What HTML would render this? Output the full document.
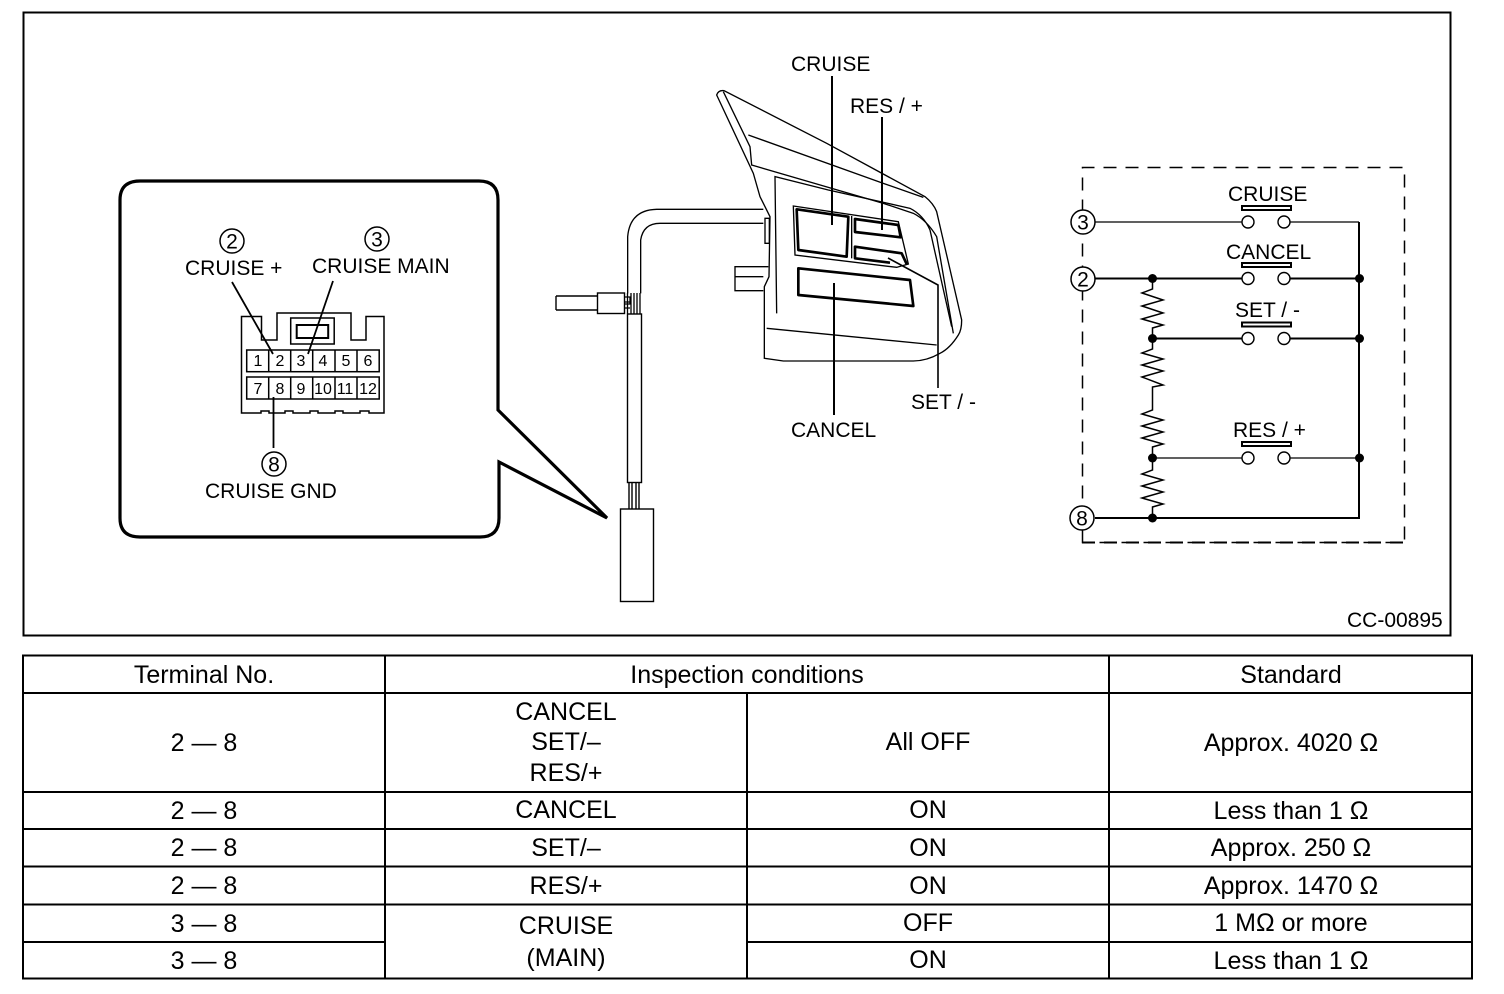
<!DOCTYPE html>
<html><head><meta charset="utf-8"><style>
html,body{margin:0;padding:0;background:#fff}
svg{display:block}
text{font-family:"Liberation Sans",sans-serif;fill:#000;stroke:none}
.d{font-size:21px}
.n{font-size:16px;text-anchor:middle}
.c{font-size:21px;text-anchor:middle}
.t{font-size:25px;text-anchor:middle}
</style></head><body>
<svg width="1504" height="994" viewBox="0 0 1504 994" xmlns="http://www.w3.org/2000/svg" fill="none" stroke="#000">
<rect x="0" y="0" width="1504" height="994" fill="#fff" stroke="none"/>
<rect x="23.5" y="12.5" width="1427" height="623" stroke-width="2"/>

<!-- callout -->
<path d="M140 181H479Q498 181 498 200V410L607 518L499 462V518Q499 537 480 537H140Q120 537 120 518V200Q120 181 140 181Z" stroke-width="3.2" stroke-linejoin="miter"/>

<!-- connector -->
<g stroke-width="1.5">
<path d="M241.500 316.500V413H261V411H269V413H285V411H293V413H310V411H318V413H335V411H343V413H360V411H369V413H384V316.500H366V340H351V313H277V340H261.500V316.500Z"/>
<rect x="290.700" y="318" width="43.500" height="26"/>
<rect x="296.700" y="325" width="31.500" height="13" stroke-width="2"/>
<rect x="246.700" y="350" width="132.500" height="21.700"/>
<rect x="246.700" y="377" width="132.500" height="22"/>
<path d="M268.700 350V371.700M290.700 350V371.700M312.700 350V371.700M335 350V371.700M357 350V371.700M268.700 377V399M290.700 377V399M312.700 377V399M335 377V399M357 377V399"/>
<path d="M232 282L273 354M333 281L308 354M273.500 397V448" stroke-width="1.800"/>
</g>
<g>
<text class="n" x="258" y="366">1</text><text class="n" x="280" y="366">2</text><text class="n" x="301" y="366">3</text><text class="n" x="323" y="366">4</text><text class="n" x="346" y="366">5</text><text class="n" x="368" y="366">6</text>
<text class="n" x="258" y="394">7</text><text class="n" x="280" y="394">8</text><text class="n" x="301" y="394">9</text><text class="n" x="323" y="394">10</text><text class="n" x="345" y="394">11</text><text class="n" x="368" y="394">12</text>
</g>
<circle cx="232" cy="241" r="12" stroke-width="1.500"/><text class="c" x="232" y="248.500">2</text>
<circle cx="377" cy="239" r="12" stroke-width="1.500"/><text class="c" x="377" y="246.500">3</text>
<circle cx="274" cy="464" r="12" stroke-width="1.500"/><text class="c" x="274" y="471.500">8</text>
<text class="d" x="185" y="275">CRUISE +</text>
<text class="d" x="312" y="273">CRUISE MAIN</text>
<text class="d" x="205" y="498">CRUISE GND</text>

<!-- steering switch, drawn in 3x coordinates -->
<g transform="translate(550 80) scale(.33333)" stroke-width="4">
<path d="M500 45Q505 30 522 32L830 190L1125 350Q1150 370 1160 395L1235 720Q1235 750 1225 765Q1200 805 1170 820Q1130 843 1090 843H700L643 835V620L657 590L660 410L630 350L610 280Z"/>
<path d="M520 35L600 200L605 255L1000 370L1090 400Q1130 420 1160 470L1210 760"/>
<path d="M595 165L1000 310L1120 352"/>
<path d="M680 700L675 290L835 330L1080 385Q1120 405 1140 450L1205 740"/>
<path d="M650 745L1160 795"/>
<path d="M730 378L1045 425L1075 552L1040 562L735 525Z"/>
<path d="M905 408V535"/>
<path d="M645 415H658V490H645Z" />
<path d="M655 560H555V632H640M555 590H640"/>
<g stroke-width="8" stroke-linejoin="round">
<path d="M740 388L895 410L890 530L745 510Z"/>
<path d="M915 417L1045 435L1052 472L915 456Z"/>
<path d="M1020 548L915 535V500L1055 520L1070 552"/>
<path d="M745 565L1080 600L1090 678L745 645Z"/>
</g>
<path d="M233 640V470Q240 390 320 388H640M272 640V480Q280 430 330 430H640"/>
</g>
<!-- leaders -->
<path d="M832 76V225M882 117V230M834 283V415" stroke-width="2"/>
<path d="M888 258L938 285V388" stroke-width="1.600"/>
<text class="d" x="791" y="71">CRUISE</text>
<text class="d" x="850" y="113">RES / +</text>
<text class="d" x="791" y="437">CANCEL</text>
<text class="d" x="911" y="409">SET / -</text>

<!-- cable -->
<g stroke-width="1.400">
<path d="M556 296H597M556 310H597M556 296V310"/>
<rect x="597.500" y="293" width="27" height="20.500"/>
<path d="M624.500 297H630V304H624.500M624.500 302H630M624.500 308H630M627.500 293V313.500M631 293V313.500M634 293V313.500M637 293V313.500M640 293V313.500" stroke-width="1.300"/>
<rect x="627.500" y="314" width="14" height="168.500"/>
<path d="M629 482.500V509M632 482.500V509M636 482.500V509M639 482.500V509"/>
<rect x="620.500" y="509" width="33" height="92.500"/>
</g>

<!-- schematic -->
<path d="M1082.500 542.500V167.500H1404.500V542.500Z" stroke-width="1.500" stroke-dasharray="13 9"/>
<path d="M1082 542.500H1404.500" stroke-width="2" stroke-dasharray="13 9"/>
<path d="M1095 222H1242M1290 222H1359" stroke-width="1.300"/>
<path d="M1095 278.500H1242M1290 278.500H1359M1152.500 338.500H1242M1290 338.500H1359M1095 518H1359V222" stroke-width="2"/>
<path d="M1152.500 458H1242M1290 458H1359" stroke-width="1.300"/>
<g stroke-width="1.400" fill="#fff">
<circle cx="1248" cy="222" r="6"/><circle cx="1284" cy="222" r="6"/>
<circle cx="1248" cy="278.500" r="6"/><circle cx="1284" cy="278.500" r="6"/>
<circle cx="1248" cy="338.500" r="6"/><circle cx="1284" cy="338.500" r="6"/>
<circle cx="1248" cy="458" r="6"/><circle cx="1284" cy="458" r="6"/>
</g>
<g stroke-width="2" fill="#fff">
<rect x="1242" y="206" width="49" height="4"/>
<rect x="1242" y="263" width="49" height="4"/>
<rect x="1242" y="322.500" width="49" height="4"/>
<rect x="1242" y="442" width="49" height="4"/>
</g>
<g stroke-width="1.500" stroke-linejoin="miter">
<path d="M1152.500 279V289L1142 293L1163 300L1142 306L1163 313L1142 319L1163 325L1152.500 328V339V349L1142 353L1163 359L1142 365L1163 371L1142 377L1163 385L1152.500 387V410L1142 414L1163 420L1142 426L1163 432L1142 438L1163 444L1152.500 447V470L1142 474L1163 480L1142 486L1163 492L1142 498L1163 504L1152.500 507V518"/>
</g>
<g fill="#000" stroke="none">
<circle cx="1152.500" cy="278.500" r="4.500"/><circle cx="1152.500" cy="338.500" r="4.500"/><circle cx="1152.500" cy="458" r="4.500"/><circle cx="1152.500" cy="518" r="4.500"/>
<circle cx="1359.500" cy="278.500" r="4.500"/><circle cx="1359.500" cy="338.500" r="4.500"/><circle cx="1359.500" cy="458" r="4.500"/>
</g>
<g stroke-width="1.500" fill="#fff">
<circle cx="1083" cy="222" r="12"/><circle cx="1083" cy="279" r="12"/><circle cx="1082" cy="518" r="12"/>
</g>
<text class="c" x="1083" y="229.500">3</text><text class="c" x="1083" y="286.500">2</text><text class="c" x="1082" y="525.500">8</text>
<text class="d" x="1228" y="201">CRUISE</text>
<text class="d" x="1226" y="259">CANCEL</text>
<text class="d" x="1235" y="317">SET / -</text>
<text class="d" x="1233" y="437">RES / +</text>
<text x="1347" y="627" style="font-size:21px">CC-00895</text>

<!-- table -->
<g stroke-width="2">
<rect x="23" y="655.500" width="1449" height="323"/>
<path d="M23 693H1472M23 792H1472M23 829H1472M23 866.500H1472M23 904.500H1472M23 942H385M747 942H1472M385 655V979M747 693V979M1109 655V979"/>
</g>
<text class="t" x="204" y="683">Terminal No.</text>
<text class="t" x="747" y="683">Inspection conditions</text>
<text class="t" x="1291" y="683">Standard</text>
<text class="t" x="204" y="751">2 — 8</text>
<text class="t" x="566" y="720">CANCEL</text>
<text class="t" x="566" y="750">SET/–</text>
<text class="t" x="566" y="781">RES/+</text>
<text class="t" x="928" y="750">All OFF</text>
<text class="t" x="1291" y="751">Approx. 4020 Ω</text>
<text class="t" x="204" y="819">2 — 8</text><text class="t" x="566" y="818">CANCEL</text><text class="t" x="928" y="818">ON</text><text class="t" x="1291" y="819">Less than 1 Ω</text>
<text class="t" x="204" y="856">2 — 8</text><text class="t" x="566" y="856">SET/–</text><text class="t" x="928" y="856">ON</text><text class="t" x="1291" y="856">Approx. 250 Ω</text>
<text class="t" x="204" y="894">2 — 8</text><text class="t" x="566" y="894">RES/+</text><text class="t" x="928" y="894">ON</text><text class="t" x="1291" y="894">Approx. 1470 Ω</text>
<text class="t" x="204" y="932">3 — 8</text><text class="t" x="566" y="934">CRUISE</text><text class="t" x="928" y="931">OFF</text><text class="t" x="1291" y="931">1 MΩ or more</text>
<text class="t" x="204" y="969">3 — 8</text><text class="t" x="566" y="966">(MAIN)</text><text class="t" x="928" y="968">ON</text><text class="t" x="1291" y="969">Less than 1 Ω</text>
</svg>
</body></html>
